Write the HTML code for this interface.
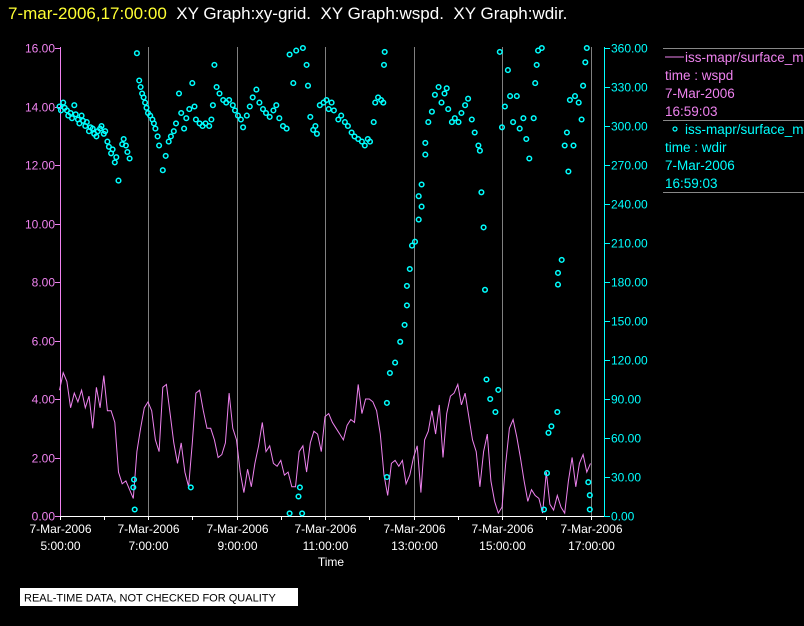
<!DOCTYPE html>
<html><head><meta charset="utf-8"><style>
html,body{margin:0;padding:0;background:#000;width:804px;height:626px;overflow:hidden}
svg{display:block;font-family:"Liberation Sans",sans-serif}
</style></head><body>
<svg id="chart" width="804" height="626">
<rect width="804" height="626" fill="#000"/>
<text x="8" y="19" font-size="17" xml:space="preserve" style="white-space:pre"><tspan fill="#ffff33">7-mar-2006,17:00:00</tspan><tspan fill="#fff">  XY Graph:xy-grid.  XY Graph:wspd.  XY Graph:wdir.</tspan></text>
<g id="grid"></g><g id="axes"></g><g id="series"></g>
<g font-size="13.5">
<line x1="663" y1="48.5" x2="804" y2="48.5" stroke="#888"/>
<line x1="665" y1="57" x2="684" y2="57" stroke="#ee82ee"/>
<text x="685" y="62" fill="#ee82ee">iss-mapr/surface_m</text>
<text x="665" y="80" fill="#ee82ee">time : wspd</text>
<text x="665" y="98" fill="#ee82ee">7-Mar-2006</text>
<text x="665" y="116" fill="#ee82ee">16:59:03</text>
<line x1="663" y1="120.5" x2="804" y2="120.5" stroke="#888"/>
<circle cx="675" cy="129" r="2" fill="none" stroke="#00ffff" stroke-width="1.2"/>
<text x="685" y="134" fill="#00ffff">iss-mapr/surface_m</text>
<text x="665" y="152" fill="#00ffff">time : wdir</text>
<text x="665" y="170" fill="#00ffff">7-Mar-2006</text>
<text x="665" y="188" fill="#00ffff">16:59:03</text>
<line x1="663" y1="192.5" x2="804" y2="192.5" stroke="#888"/>
</g>
<rect x="20" y="588" width="278" height="18" fill="#fff"/>
<text x="24" y="601.5" font-size="11" fill="#000">REAL-TIME DATA, NOT CHECKED FOR QUALITY</text>
</svg>
<script>
// wind speed, one value every 5 minutes from 5:00
const wspdStartMin = 0;
const wspdStepMin = 5;
const wspdValues = [4.3,4.9,4.6,3.7,4.2,3.9,4.3,3.7,4.1,3.0,4.4,3.7,4.8,3.6,3.6,3.2,1.5,1.1,1.2,0.9,0.6,2.2,3.0,3.7,
3.9,3.6,2.6,2.2,4.4,4.5,3.5,2.5,1.8,2.5,1.5,1.0,2.5,4.2,4.3,3.6,3.0,3.0,2.6,2.0,2.1,2.5,4.2,3.0,
2.6,1.5,0.8,1.6,1.0,1.8,2.4,3.2,2.2,2.4,1.8,1.7,1.9,1.4,1.5,1.0,1.0,2.2,2.4,1.5,2.5,2.9,2.8,2.2,
3.4,3.5,3.2,3.0,2.8,2.6,3.1,3.3,3.2,4.5,3.5,4.0,4.0,3.9,3.6,2.8,1.4,0.7,1.8,1.9,1.7,1.9,1.1,1.4,
2.0,2.4,0.8,2.6,2.9,3.6,2.8,3.8,2.0,3.5,4.1,4.2,4.5,3.8,4.2,3.4,2.6,2.2,1.0,2.2,2.8,1.2,0.5,0.1,
0.3,1.8,3.0,3.3,2.7,2.0,1.2,0.5,0.9,0.7,0.6,0.1,1.5,0.4,0.2,0.7,0.3,0.1,1.2,2.0,1.0,1.8,2.1,1.5,1.8];
// wind direction samples: minutes since 5:00 and degrees
const wdirMinutes = [0,2,5,7,10,12,15,17,20,22,25,27,30,32,35,37,40,42,45,47,50,52,55,57,60,62,65,67,70,72,75,77,80,85,87,90,92,95,100,101,102,105,108,110,112,114,116,118,120,
123,126,128,130,133,135,140,144,148,151,155,158,162,165,169,172,176,178,180,183,185,190,194,198,203,206,208,210,213,217,222,226,230,235,238,242,
246,249,254,258,262,267,271,276,280,285,290,294,298,303,308,312,312,317,321,324,326,329,330,335,337,340,344,347,349,353,358,362,
365,369,372,378,382,387,391,396,400,405,410,414,418,421,426,428,432,436,439,440,441,444,444,448,455,462,468,471,471,475,478,482,487,487,491,491,496,496,500,505,509,514,518,522,525,527,532,536,541,545,550,554,559,563,568,570,572,575,577,579,584,591,595,597,600,604,608,611,615,620,624,629,633,637,643,645,647,649,654,657,661,663,667,675,676,676,681,685,688,690,692,697,699,704,708,710,713,715,717,719,719];
const wdirValues = [315,312,318,314,312,308,310,306,316,309,305,302,308,304,300,303,296,299,298,294,292,296,298,300,294,296,288,284,279,282,272,276,258,286,290,285,280,275,22,28,5,356,335,330,325,322,318,314,310,
308,305,302,298,292,285,266,277,288,292,296,302,325,310,298,306,313,22,333,315,305,302,300,302,300,305,316,347,330,325,320,318,320,316,312,308,
305,299,308,315,322,328,318,313,310,307,312,316,306,300,298,355,2,333,358,15,22,2,360,347,331,307,297,300,294,316,318,320,
313,318,312,305,308,303,300,295,292,290,288,285,290,288,303,318,322,320,318,347,357,87,30,110,118,134,147,162,177,190,208,211,228,246,255,238,278,287,303,311,324,330,318,325,329,313,303,306,303,310,316,321,305,295,285,281,249,222,174,105,90,80,97,357,299,315,343,323,303,323,298,306,290,275,306,333,347,358,360,5,33,64,69,80,187,178,197,285,295,265,320,285,323,318,305,331,349,360,26,16,5];
const leftTicks = ["0.00","2.00","4.00","6.00","8.00","10.00","12.00","14.00","16.00"];
const rightTicks = ["0.00","30.00","60.00","90.00","120.00","150.00","180.00","210.00","240.00","270.00","300.00","330.00","360.00"];
const xTickHours = [5,7,9,11,13,15,17];
const xTickLabels = ["5:00:00","7:00:00","9:00:00","11:00:00","13:00:00","15:00:00","17:00:00"];

const NS="http://www.w3.org/2000/svg";
const X0=60, X1=604, YT=47, YB=516;
function xOfMin(m){return 59.5 + m/60*44.25;}
function yLeft(v){return YB - v*(YB-48)/16;}
function yRight(d){return YB - d*(YB-48)/360;}
function mk(tag,attrs,parent){const e=document.createElementNS(NS,tag);for(const k in attrs)e.setAttribute(k,attrs[k]);parent.appendChild(e);return e;}
const grid=document.getElementById('grid'), axes=document.getElementById('axes'), ser=document.getElementById('series');

xTickHours.forEach((h,i)=>{
  const x=Math.round(xOfMin((h-5)*60))+0.5;
  if(i>0){const g=mk('line',{x1:x,y1:YT,x2:x,y2:YB,stroke:'#808080'},grid);
  
  }
  const t1=mk('text',{x:x,y:533,'text-anchor':'middle','font-size':12,fill:'#fff'},axes);t1.textContent='7-Mar-2006';
  
  
  const t2=mk('text',{x:x,y:550,'text-anchor':'middle','font-size':12,fill:'#fff'},axes);t2.textContent=xTickLabels[i];
  
  
});
for(let h=5;h<=17;h++){const x=Math.round(xOfMin((h-5)*60))+0.5;mk('line',{x1:x,y1:YB,x2:x,y2:YB+4,stroke:'#fff'},axes);}
const xa=mk('line',{x1:X0,y1:YB+0.5,x2:X1,y2:YB+0.5,stroke:'#fff'},axes);


const xt=mk('text',{x:331,y:566,'text-anchor':'middle','font-size':12,fill:'#fff'},axes);xt.textContent='Time';



const la=mk('line',{x1:X0+0.5,y1:YT,x2:X0+0.5,y2:YB,stroke:'#ee82ee'},axes);


leftTicks.forEach(s=>{const y=Math.round(yLeft(parseFloat(s)))+0.5;
  mk('line',{x1:X0-5,y1:y,x2:X0,y2:y,stroke:'#ee82ee'},axes);
  const t=mk('text',{x:55,y:y+4,'text-anchor':'end','font-size':12,fill:'#ee82ee'},axes);t.textContent=s;
  
  });
const ra=mk('line',{x1:X1+0.5,y1:YT,x2:X1+0.5,y2:YB,stroke:'#00ffff'},axes);


rightTicks.forEach(s=>{const y=Math.round(yRight(parseFloat(s)))+0.5;
  mk('line',{x1:X1,y1:y,x2:X1+6,y2:y,stroke:'#00ffff'},axes);
  const t=mk('text',{x:611,y:y+4,'font-size':12,fill:'#00ffff'},axes);t.textContent=s;
  
  });

const pts=wspdValues.map((v,i)=>xOfMin(wspdStartMin+i*wspdStepMin).toFixed(1)+','+yLeft(v).toFixed(1)).join(' ');
const pl=mk('polyline',{points:pts,fill:'none',stroke:'#ee82ee','stroke-width':1},ser);


const n=Math.min(wdirMinutes.length,wdirValues.length);
for(let i=0;i<n;i++){
  const c=mk('circle',{cx:xOfMin(wdirMinutes[i]).toFixed(1),cy:yRight(wdirValues[i]).toFixed(1),r:2.3,fill:'none',stroke:'#00ffff','stroke-width':1.5},ser);
  
  
}
</script>
</body></html>
